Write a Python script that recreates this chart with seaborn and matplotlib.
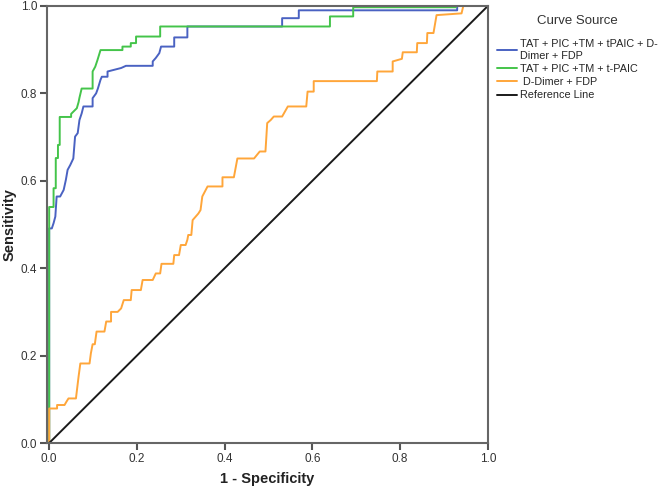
import pandas as pd
import seaborn as sns
import matplotlib
matplotlib.use('Agg')
import matplotlib.pyplot as plt

# ROC points (1 - specificity, sensitivity)
combo6_fpr = [0, 0, 0.006, 0.01, 0.014, 0.017, 0.025, 0.033, 0.038, 0.042, 0.048, 0.055,
              0.059, 0.065, 0.069, 0.074, 0.078, 0.099, 0.099, 0.107, 0.111, 0.117, 0.12,
              0.133, 0.133, 0.164, 0.175, 0.236, 0.236, 0.243, 0.251, 0.255, 0.285, 0.285,
              0.315, 0.315, 0.531, 0.531, 0.569, 0.569, 0.93, 0.93, 1.0]
combo6_tpr = [0, 0.491, 0.491, 0.503, 0.518, 0.564, 0.564, 0.579, 0.602, 0.625, 0.636, 0.651,
              0.701, 0.709, 0.739, 0.754, 0.77, 0.77, 0.789, 0.8, 0.811, 0.831, 0.838,
              0.838, 0.85, 0.858, 0.863, 0.863, 0.873, 0.881, 0.892, 0.907, 0.907, 0.928,
              0.928, 0.953, 0.953, 0.972, 0.972, 0.99, 0.99, 1.0, 1.0]

combo4_fpr = [0, 0, 0.01, 0.01, 0.015, 0.015, 0.02, 0.02, 0.024, 0.024, 0.05, 0.05, 0.055,
              0.063, 0.067, 0.069, 0.074, 0.099, 0.099, 0.105, 0.11, 0.117, 0.167, 0.167,
              0.186, 0.186, 0.198, 0.198, 0.253, 0.253, 0.64, 0.64, 0.693, 0.693, 0.927,
              0.927, 1.0]
combo4_tpr = [0, 0.54, 0.54, 0.583, 0.583, 0.652, 0.652, 0.682, 0.682, 0.746, 0.746, 0.753,
              0.758, 0.766, 0.78, 0.79, 0.811, 0.811, 0.85, 0.861, 0.876, 0.899, 0.899, 0.907,
              0.907, 0.915, 0.915, 0.93, 0.93, 0.953, 0.953, 0.976, 0.976, 0.997, 0.997,
              1.0, 1.0]

ddimer_fpr = [0, 0, 0.018, 0.018, 0.035, 0.039, 0.044, 0.061, 0.067, 0.071, 0.092, 0.095,
              0.099, 0.104, 0.108, 0.126, 0.13, 0.141, 0.141, 0.156, 0.164, 0.17, 0.186,
              0.188, 0.209, 0.213, 0.236, 0.243, 0.253, 0.256, 0.283, 0.285, 0.296, 0.3,
              0.311, 0.315, 0.317, 0.324, 0.327, 0.34, 0.345, 0.349, 0.361, 0.395, 0.395,
              0.421, 0.429, 0.467, 0.48, 0.493, 0.497, 0.505, 0.512, 0.531, 0.544, 0.586,
              0.589, 0.603, 0.603, 0.747, 0.748, 0.783, 0.783, 0.804, 0.806, 0.838, 0.839,
              0.861, 0.862, 0.876, 0.883, 0.94, 0.944, 1.0]
ddimer_tpr = [0, 0.079, 0.079, 0.087, 0.087, 0.094, 0.102, 0.102, 0.152, 0.182, 0.182, 0.205,
              0.226, 0.226, 0.255, 0.255, 0.278, 0.278, 0.3, 0.3, 0.308, 0.327, 0.327,
              0.35, 0.35, 0.373, 0.373, 0.388, 0.388, 0.41, 0.41, 0.43, 0.43, 0.453,
              0.453, 0.465, 0.476, 0.476, 0.51, 0.525, 0.533, 0.564, 0.587, 0.587, 0.608,
              0.608, 0.651, 0.651, 0.667, 0.667, 0.732, 0.739, 0.747, 0.747, 0.77, 0.77,
              0.804, 0.804, 0.828, 0.828, 0.85, 0.85, 0.873, 0.879, 0.894, 0.894, 0.915,
              0.915, 0.938, 0.938, 0.979, 0.983, 1.0, 1.0]

ref_fpr = [0, 1]
ref_tpr = [0, 1]

labels = ['TAT + PIC +TM + tPAIC + D-\nDimer + FDP', 'TAT + PIC +TM + t-PAIC',
          ' D-Dimer + FDP', 'Reference Line']
colors = ['#4a62c2', '#44c44a', '#ffa63a', '#1a1a1a']

# long-form table for seaborn
frames = []
for lab, xs, ys in zip(labels, [combo6_fpr, combo4_fpr, ddimer_fpr, ref_fpr],
                       [combo6_tpr, combo4_tpr, ddimer_tpr, ref_tpr]):
    frames.append(pd.DataFrame({'fpr': xs, 'tpr': ys, 'Curve Source': lab}))
df = pd.concat(frames, ignore_index=True)

sns.set_theme(style="ticks")
plt.rcParams['font.family'] = ['Liberation Sans', 'DejaVu Sans']

fig = plt.figure(figsize=(6.6, 4.95), dpi=100)
ax = fig.add_axes([0.0712, 0.105, 0.668, 0.883])

sns.lineplot(data=df, x='fpr', y='tpr', hue='Curve Source', palette=colors,
             hue_order=labels, sort=False, estimator=None, linewidth=1.4, ax=ax)

# small left margin so the vertical segments at x=0 show next to the axis
ax.set_xlim(-0.005, 1)
ax.set_ylim(0, 1)
ax.set_xticks([0, 0.2, 0.4, 0.6, 0.8, 1.0])
ax.set_yticks([0, 0.2, 0.4, 0.6, 0.8, 1.0])
ax.set_xticklabels(['0.0', '0.2', '0.4', '0.6', '0.8', '1.0'])
ax.set_yticklabels(['0.0', '0.2', '0.4', '0.6', '0.8', '1.0'])
ax.tick_params(axis='both', labelsize=8.5, colors='#555555', labelcolor='#333333',
               length=5, width=1.5, pad=2)

for spine in ax.spines.values():
    spine.set_visible(True)
    spine.set_color('#666666')
    spine.set_linewidth(1.5)

ax.set_xlabel('1 - Specificity', fontsize=10.5, fontweight='bold', color='#222222', labelpad=5)
ax.set_ylabel('Sensitivity', fontsize=10.5, fontweight='bold', color='#222222', labelpad=3)

# legend outside on the right
handles, labs = ax.get_legend_handles_labels()
ax.legend(handles, labs, title='Curve Source', loc='upper left',
          bbox_to_anchor=(1.01, 0.99), frameon=False, fontsize=7.8,
          title_fontsize=9.5, handlelength=1.9, handletextpad=0.3,
          labelspacing=0.3, borderaxespad=0)
leg = ax.get_legend()
leg.get_title().set_color('#333333')
leg._legend_box.align = 'center'
leg._legend_box.sep = 9

fig.savefig('out.png', dpi=100)
